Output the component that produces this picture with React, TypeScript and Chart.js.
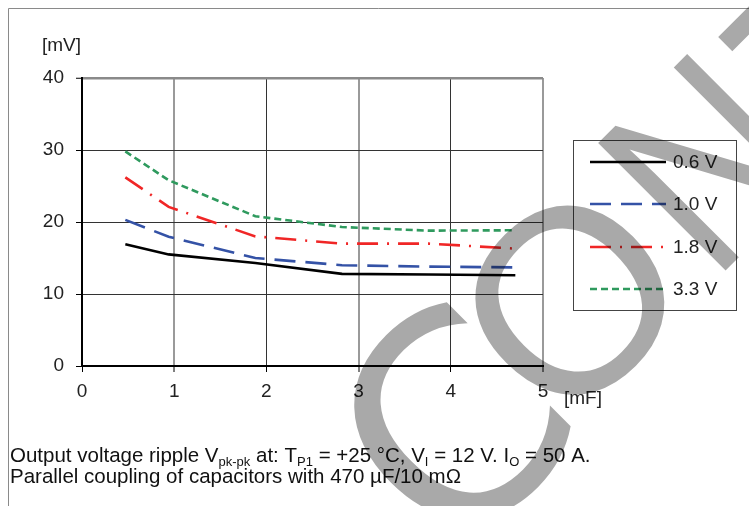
import React, { useEffect, useRef } from "react";
import { Chart, registerables } from "chart.js";

Chart.register(...registerables);

const capacitance = [0.47, 0.94, 1.88, 2.82, 3.76, 4.7];
const ripple06 = [16.9, 15.5, 14.3, 12.8, 12.7, 12.6];
const ripple10 = [20.3, 17.95, 15.0, 14.0, 13.8, 13.7];
const ripple18 = [26.2, 22.1, 18.0, 17.0, 17.0, 16.3];
const ripple33 = [29.8, 25.8, 20.8, 19.3, 18.8, 18.85];
const seriesLabels = ["0.6 V", "1.0 V", "1.8 V", "3.3 V"];
const yTicks = [0, 10, 20, 30, 40];
const xTicks = [0, 1, 2, 3, 4, 5];

const FONT = '"Liberation Sans", Arial, sans-serif';

const pts = (ys: number[]) => capacitance.map((x, i) => ({ x, y: ys[i] }));

// watermark glyphs: letter, centre x, centre y, font size, horizontal squeeze, font
const watermark: [string, number, number, number, number, string][] = [
  ["C", 450, 424, 284, 1, '"DejaVu Sans"'],
  ["O", 567, 297, 262, 1, FONT],
  ["N", 703, 159, 262, 0.86, FONT],
  ["T", 831, 45, 262, 1, FONT],
];

const overlayPlugin = {
  id: "overlay",
  afterDraw(chart: any) {
    const ctx = chart.ctx as CanvasRenderingContext2D;
    const W = chart.width;
    const H = chart.height;
    ctx.save();
    // frame
    ctx.strokeStyle = "#8a8a8a";
    ctx.lineWidth = 1;
    ctx.beginPath();
    ctx.moveTo(8.5, H);
    ctx.lineTo(8.5, 8.5);
    ctx.lineTo(W, 8.5);
    ctx.stroke();

    // axis units
    ctx.fillStyle = "#222";
    ctx.font = `19px ${FONT}`;
    ctx.textBaseline = "alphabetic";
    ctx.textAlign = "left";
    ctx.fillText("[mV]", 42, 51);
    ctx.fillText("[mF]", 564, 404);

    // legend
    const lx = 573.5, ly = 140.5, lw = 163, lh = 170;
    ctx.strokeStyle = "#444";
    ctx.lineWidth = 1;
    ctx.strokeRect(lx, ly, lw, lh);
    const rows = [162, 204, 247, 289];
    chart.data.datasets.forEach((ds: any, i: number) => {
      const y = rows[i];
      ctx.save();
      ctx.strokeStyle = ds.borderColor;
      ctx.lineWidth = ds.borderWidth;
      ctx.setLineDash(ds.borderDash || []);
      ctx.beginPath();
      ctx.moveTo(590, y);
      ctx.lineTo(666, y);
      ctx.stroke();
      ctx.restore();
      ctx.fillStyle = "#222";
      ctx.font = `19px ${FONT}`;
      ctx.textBaseline = "middle";
      ctx.fillText(ds.label, 673, y + 1);
    });

    // caption with subscripts
    const drawRich = (parts: [string, boolean][], x: number, y: number) => {
      ctx.textBaseline = "alphabetic";
      ctx.textAlign = "left";
      let cx = x;
      for (const [t, sub] of parts) {
        ctx.font = sub ? `13px ${FONT}` : `20.5px ${FONT}`;
        ctx.fillText(t, cx, sub ? y + 4 : y);
        cx += ctx.measureText(t).width;
      }
    };
    ctx.fillStyle = "#111";
    drawRich(
      [
        ["Output voltage ripple V", false],
        ["pk-pk", true],
        [" at: T", false],
        ["P1", true],
        [" = +25 °C, V", false],
        ["I", true],
        [" = 12 V. I", false],
        ["O", true],
        [" = 50 A.", false],
      ],
      10,
      462
    );
    drawRich([["Parallel coupling of capacitors with 470 µF/10 mΩ", false]], 10, 483);

    // watermark
    ctx.globalCompositeOperation = "multiply";
    ctx.fillStyle = "#a9a9a9";
    ctx.textBaseline = "alphabetic";
    ctx.textAlign = "center";
    for (const [ch, x, y, size, sx, fam] of watermark) {
      ctx.save();
      ctx.font = `${size}px ${fam}`;
      ctx.translate(x, y);
      ctx.rotate((-45 * Math.PI) / 180);
      ctx.scale(sx, 1);
      ctx.fillText(ch, 0, 0.362 * size);
      ctx.restore();
    }
    ctx.restore();
  },
};

export default function App() {
  const ref = useRef<HTMLCanvasElement | null>(null);
  useEffect(() => {
    if (!ref.current) return;
    const mk = (label: string, data: number[], color: string, dash: number[]) => ({
      label,
      data: pts(data),
      borderColor: color,
      backgroundColor: color,
      borderWidth: 2.6,
      borderDash: dash,
      pointRadius: 0,
      tension: 0,
      fill: false,
      showLine: true,
    });
    const chart = new Chart(ref.current, {
      type: "line",
      data: {
        datasets: [
          mk(seriesLabels[0], ripple06, "#000000", []),
          mk(seriesLabels[1], ripple10, "#3452a6", [21, 10]),
          mk(seriesLabels[2], ripple18, "#f02626", [21, 9, 2, 9]),
          mk(seriesLabels[3], ripple33, "#2f9a5e", [7, 4]),
        ],
      },
      options: {
        animation: false,
        responsive: false,
        devicePixelRatio: 1,
        layout: { padding: { left: 0, top: 78, right: 206, bottom: 100 } },
        plugins: { legend: { display: false }, tooltip: { enabled: false } },
        scales: {
          x: {
            type: "linear",
            min: 0,
            max: 5,
            afterFit: (s: any) => {
              s.height = 40;
            },
            afterBuildTicks: (s: any) => {
              s.ticks = xTicks.map((v) => ({ value: v }));
            },
            ticks: {
              font: { family: FONT, size: 19 },
              color: "#222",
              padding: 8,
              maxRotation: 0,
            },
            grid: {
              color: (c: any) =>
                c.tick && (c.tick.value === 1 || c.tick.value === 3 || c.tick.value === 5) ? "#9a9a9a" : "#333",
              lineWidth: (c: any) => (c.tick && (c.tick.value === 1 || c.tick.value === 3 || c.tick.value === 5) ? 2 : 1),
              tickLength: 6,
              tickColor: "#000",
              tickWidth: 1,
            },
            border: { color: "#000", width: 2 },
          },
          y: {
            type: "linear",
            min: 0,
            max: 40,
            afterFit: (s: any) => {
              s.width = 82;
            },
            afterBuildTicks: (s: any) => {
              s.ticks = yTicks.map((v) => ({ value: v }));
            },
            ticks: {
              font: { family: FONT, size: 19 },
              color: "#222",
              padding: 12,
            },
            grid: {
              color: (c: any) => (c.tick && c.tick.value === 40 ? "#8a8a8a" : "#333"),
              lineWidth: (c: any) => (c.tick && c.tick.value === 40 ? 2.5 : 1),
              tickLength: 6,
              tickColor: "#000",
              tickWidth: 1,
            },
            border: { color: "#000", width: 2 },
          },
        },
      },
      plugins: [overlayPlugin],
    } as any);
    return () => chart.destroy();
  }, []);
  return (
    <div style={{ position: "absolute", left: 0, top: 0, width: 749, height: 506, background: "#fff" }}>
      <canvas ref={ref} width={749} height={506} style={{ width: 749, height: 506, display: "block" }} />
    </div>
  );
}
